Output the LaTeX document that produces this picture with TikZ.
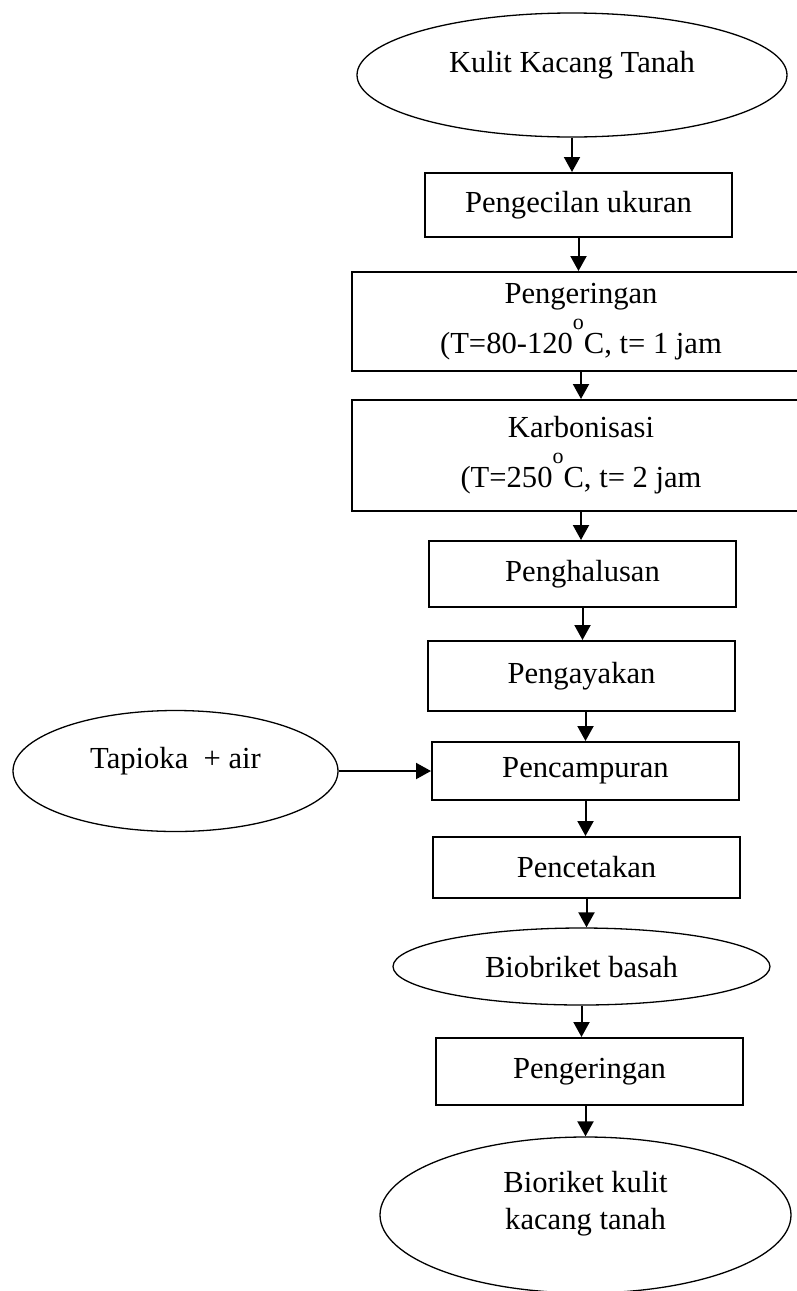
\documentclass[tikz,border=0pt]{standalone}
\usepackage{fontspec}
\setmainfont{Liberation Serif}
\usetikzlibrary{arrows.meta,shapes.geometric}
\newcommand\derajat{\raisebox{12pt}{\fontsize{11}{11}\selectfont o}}

\begin{document}
\begin{tikzpicture}[x=0.5pt,y=-0.5pt,line width=1pt
  , font=\fontsize{15.3}{25}\selectfont
  , >={Triangle[length=7.5pt,width=8pt]}]
    \tikzset{block/.style= {draw, rectangle
    , minimum width=153.5pt
    , inner sep=0pt
    , align=center
      },
      oval/.style= {draw, ellipse
      , line width=0.65pt
      , inner sep=0pt
      , text height=10pt, text depth=13pt
      }
    }

\path[use as bounding box, clip] (0,0) rectangle (797,1291);

\node [oval, minimum width=215pt, minimum height=62pt] (kulit) at (572,75) {Kulit Kacang Tanah};
\node [block, minimum height=32pt] (kecil) at (578.5,205) {Pengecilan ukuran};
\node [block, minimum width=229pt, minimum height=49.5pt] (kering) at (581,321.5) {Pengeringan\\(T=80-120\derajat C, t= 1 jam};
\node [block, minimum width=229pt, minimum height=55.5pt] (karbon) at (581,455.5) {Karbonisasi\\(T=250\derajat C, t= 2 jam};
\node [block, minimum height=33pt] (halus) at (582.5,574) {Penghalusan};
\node [block, minimum height=35pt] (ayak) at (581.5,676) {Pengayakan};
\node [block, minimum height=29pt] (campur) at (585.5,771) {Pencampuran};
\node [oval, minimum width=162.5pt, minimum height=60.5pt] (tapioka) at (175.5,771) {Tapioka~ + air};
\node [block, minimum height=30.5pt] (cetak) at (586.5,867.5) {Pencetakan};
\node [oval, minimum width=188.5pt, minimum height=38.5pt
      , text height=14pt, text depth=3.5pt] (basah) at (581.5,966.5) {Biobriket basah};
\node [block, minimum height=33.5pt] (kering2) at (589.5,1071.5) {Pengeringan};
\node [oval, minimum width=205.5pt, minimum height=78pt] (hasil) at (585.5,1215) {};
\node [align=center, font=\fontsize{15.3}{18.5}\selectfont] (hasiltxt)
      at ([yshift=5.5pt]hasil.center) {Bioriket kulit\\kacang tanah};

 \path[draw, ->] (kulit.south) -- (kulit.south |- kecil.north);
 \path[draw, ->] (kecil.south) -- (kecil.south |- kering.north);
 \path[draw, ->] (kering.south) -- (karbon.north);
 \path[draw, ->] (karbon.south) -- (karbon.south |- halus.north);
 \path[draw, ->] (halus.south) -- (halus.south |- ayak.north);
 \path[draw, ->] (ayak.south -| campur) -- (campur.north);
 \path[draw, ->] (campur.south) -- (campur.south |- cetak.north);
 \path[draw, ->] (cetak.south) -- (cetak.south |- basah.north);
 \path[draw, ->] (basah.south) -- (basah.south |- kering2.north);
 \path[draw, ->] (kering2.south -| hasil) -- (hasil.north);
 \path[draw, ->] (tapioka.east) -- (campur.west);
\end{tikzpicture}
\end{document}
